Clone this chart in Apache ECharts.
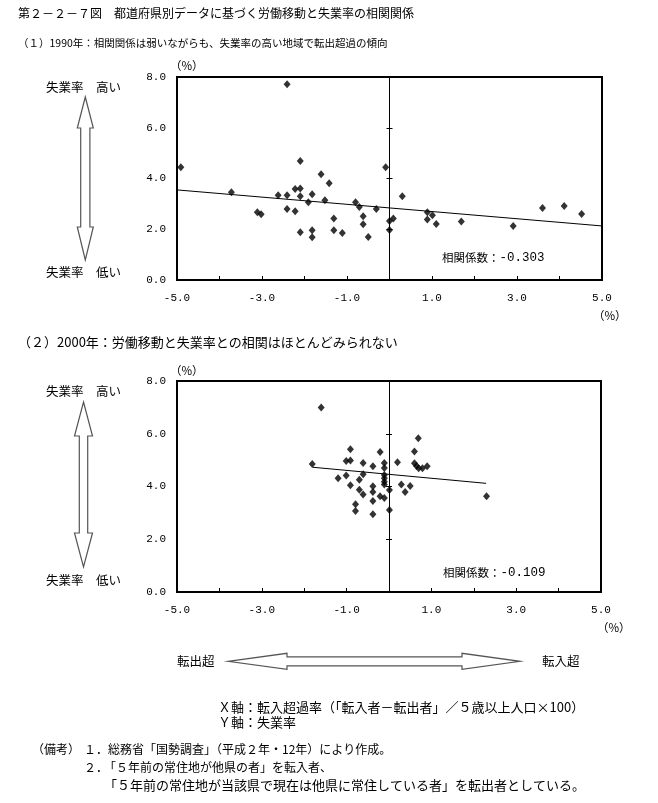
<!DOCTYPE html>
<html><head><meta charset="utf-8">
<script src="https://cdn.jsdelivr.net/npm/echarts@6/dist/echarts.min.js"></script>
<style>html,body{margin:0;padding:0;background:#fff}#c{width:658px;height:803px}</style>
</head><body><div id="c"></div>
<script>
// ---- data ----
const xTickLabels = ['-5.0', '-3.0', '-1.0', '1.0', '3.0', '5.0'];
const yTickLabels = ['0.0', '2.0', '4.0', '6.0', '8.0'];

const x1990 = [-4.91, -2.41, -3.72, -3.11, -3.02, -2.62, -2.41, -2.41, -2.22, -2.10, -2.22, -2.10, -2.10, -2.10, -1.91, -1.82, -1.82, -1.82, -1.61, -1.52, -1.42, -1.31, -1.31, -1.11, -0.80, -0.71, -0.62, -0.62, -0.50, -0.31, -0.09, 0.00, 0.00, 0.09, 0.30, 0.89, 0.89, 1.01, 1.10, 1.69, 2.91, 3.60, 4.11, 4.52];
const y1990 = [4.44, 7.71, 3.46, 2.67, 2.59, 3.34, 3.34, 2.80, 3.59, 3.61, 2.71, 4.69, 3.30, 1.88, 3.06, 3.38, 1.96, 1.68, 4.17, 3.14, 3.81, 2.42, 1.96, 1.85, 3.06, 2.88, 2.51, 2.20, 1.69, 2.80, 4.44, 2.33, 1.97, 2.42, 3.30, 2.67, 2.38, 2.55, 2.21, 2.31, 2.13, 2.84, 2.92, 2.60];
const trend1990X = [-5, 5];
const trend1990Y = [3.55, 2.13];
const corr1990 = '-0.303';

const x2000 = [-1.60, -1.81, -0.91, -0.21, 0.69, 0.60, -1.01, -0.91, -0.61, -0.38, -0.11, -0.11, 0.20, 0.60, 0.65, 0.70, 0.79, 0.90, -1.20, -1.01, -0.70, -0.61, -0.91, -0.70, -0.61, -0.38, -0.38, -0.21, -0.11, -0.11, -0.11, -0.11, -0.11, 0.01, 0.29, 0.50, 0.38, -0.79, -0.79, -0.38, -0.38, 0.01, 2.30];
const y2000 = [7.00, 4.85, 5.41, 5.31, 5.83, 5.33, 4.97, 4.99, 4.89, 4.77, 4.89, 4.70, 4.92, 4.88, 4.78, 4.69, 4.69, 4.77, 4.31, 4.42, 4.26, 4.46, 4.05, 3.88, 3.70, 4.01, 3.79, 3.63, 3.56, 4.44, 4.31, 4.18, 4.08, 3.87, 4.08, 4.02, 3.79, 3.33, 3.07, 3.45, 2.95, 3.11, 3.63];
const trend2000X = [-1.80, 2.29];
const trend2000Y = [4.73, 4.12];
const corr2000 = '-0.109';

// ---- chart ----
const JP = '"Noto Sans CJK JP", "Noto Sans", sans-serif';
const MONO = '"Liberation Mono", "DejaVu Sans Mono", monospace';
const zip = (xs, ys) => xs.map((x, i) => [x, ys[i]]);

function xAxisFor(gi) {
  return {
    gridIndex: gi, type: 'value', min: -5, max: 5, interval: 1,
    axisLine: { show: false, onZero: false },
    axisTick: { show: true, inside: true, length: 4, lineStyle: { color: '#000', width: 1 } },
    splitLine: { show: false },
    axisLabel: {
      margin: 13, color: '#000', fontFamily: MONO, fontSize: 11,
      formatter: v => { const r = Math.round(v); return Math.abs(r) % 2 === 1 ? xTickLabels[(r + 5) / 2] : ''; }
    }
  };
}
function yAxesFor(gi) {
  const base = { gridIndex: gi, type: 'value', min: 0, max: 8, interval: 2, splitLine: { show: false } };
  return [
    Object.assign({}, base, {
      position: 'left',
      axisLine: { show: false, onZero: false },
      axisTick: { show: false },
      axisLabel: { margin: 11, color: '#000', fontFamily: MONO, fontSize: 11, formatter: v => yTickLabels[Math.round(v) / 2] }
    }),
    Object.assign({}, base, {
      position: 'left',
      axisLine: { show: true, onZero: true, onZeroAxisIndex: gi, lineStyle: { color: '#000', width: 1 } },
      axisTick: { show: true, inside: true, length: 3, lineStyle: { color: '#000' } },
      axisLabel: { show: false }
    }),
    Object.assign({}, base, {
      position: 'left',
      axisLine: { show: true, onZero: true, onZeroAxisIndex: gi, lineStyle: { color: '#000', width: 1 } },
      axisTick: { show: true, inside: false, length: 3, lineStyle: { color: '#000' } },
      axisLabel: { show: false }
    })
  ];
}

function txt(x, y, text, size, extra) {
  return Object.assign({ type: 'text', x: x, y: y, silent: true,
    style: Object.assign({ text: text, font: size + 'px ' + JP, fill: '#000', verticalAlign: 'middle' }, extra || {}) });
}
function vArrow(cx, tipTop, baseTop, baseBot, tipBot, headHalf, shaftHalf) {
  return { type: 'polygon', silent: true,
    shape: { points: [[cx, tipTop], [cx + headHalf, baseTop], [cx + shaftHalf, baseTop], [cx + shaftHalf, baseBot], [cx + headHalf, baseBot], [cx, tipBot], [cx - headHalf, baseBot], [cx - shaftHalf, baseBot], [cx - shaftHalf, baseTop], [cx - headHalf, baseTop]] },
    style: { fill: '#fff', stroke: '#555', lineWidth: 1.2 } };
}
function hArrow(cy, tipL, baseL, baseR, tipR, headHalf, shaftHalf) {
  return { type: 'polygon', silent: true,
    shape: { points: [[tipL, cy], [baseL, cy - headHalf], [baseL, cy - shaftHalf], [baseR, cy - shaftHalf], [baseR, cy - headHalf], [tipR, cy], [baseR, cy + headHalf], [baseR, cy + shaftHalf], [baseL, cy + shaftHalf], [baseL, cy + headHalf]] },
    style: { fill: '#fff', stroke: '#555', lineWidth: 1.2 } };
}
function corrText(x, y, val) {
  return { type: 'text', x: x, y: y, silent: true,
    style: { text: '{a|相関係数：}{b|' + val + '}', verticalAlign: 'middle',
      rich: { a: { fontFamily: JP, fontSize: 11.5, fill: '#000' }, b: { fontFamily: MONO, fontSize: 12.5, fill: '#000' } } } };
}

const chart = echarts.init(document.getElementById('c'), null, { renderer: 'canvas' });
chart.setOption({
  animation: false,
  backgroundColor: '#fff',
  grid: [
    { left: 177, top: 77, width: 425, height: 203, show: true, borderColor: '#000', borderWidth: 2, backgroundColor: 'transparent' },
    { left: 177, top: 381, width: 424, height: 211, show: true, borderColor: '#000', borderWidth: 2, backgroundColor: 'transparent' }
  ],
  xAxis: [xAxisFor(0), xAxisFor(1)],
  yAxis: yAxesFor(0).concat(yAxesFor(1)),
  series: [
    { type: 'line', xAxisIndex: 0, yAxisIndex: 0, data: zip(trend1990X, trend1990Y), showSymbol: false, lineStyle: { color: '#000', width: 1 }, z: 2 },
    { type: 'scatter', xAxisIndex: 0, yAxisIndex: 0, data: zip(x1990, y1990), symbol: 'diamond', symbolSize: [7, 8], itemStyle: { color: '#000' }, z: 3 },
    { type: 'line', xAxisIndex: 1, yAxisIndex: 3, data: zip(trend2000X, trend2000Y), showSymbol: false, lineStyle: { color: '#000', width: 1 }, z: 2 },
    { type: 'scatter', xAxisIndex: 1, yAxisIndex: 3, data: zip(x2000, y2000), symbol: 'diamond', symbolSize: [7, 8], itemStyle: { color: '#000' }, z: 3 }
  ],
  graphic: [
    txt(18, 13, '第２－２－７図　都道府県別データに基づく労働移動と失業率の相関関係', 12),
    txt(18, 43, '（１）1990年：相関関係は弱いながらも、失業率の高い地域で転出超過の傾向', 10.5),
    txt(18, 342, '（２）2000年：労働移動と失業率との相関はほとんどみられない', 13),
    txt(170, 66, '（%）', 11.5),
    txt(170, 371, '（%）', 11.5),
    txt(593, 316, '（%）', 11.5),
    txt(597, 628, '（%）', 11.5),
    txt(46, 87, '失業率　高い', 12.5),
    txt(46, 272, '失業率　低い', 12.5),
    txt(46, 391, '失業率　高い', 12.5),
    txt(46, 580, '失業率　低い', 12.5),
    vArrow(85.3, 97, 128, 227, 260, 8, 4.6),
    vArrow(83.5, 402, 436, 533, 567, 9, 4.2),
    hArrow(661.3, 228, 287, 462, 520, 8, 4.5),
    txt(177, 661, '転出超', 12.5),
    txt(542, 661, '転入超', 12.5),
    corrText(442, 258, corr1990),
    corrText(443, 573, corr2000),
    txt(218, 707, 'Ｘ軸：転入超過率（「転入者－転出者」／５歳以上人口×100）', 13),
    txt(218, 722, 'Ｙ軸：失業率', 13),
    txt(32, 749, '（備考）', 12),
    txt(84, 749, '１．', 12),
    txt(108, 749, '総務省「国勢調査」（平成２年・12年）により作成。', 12),
    txt(84, 767, '２．', 12),
    txt(104, 767, '「５年前の常住地が他県の者」を転入者、', 12),
    txt(104, 785, '「５年前の常住地が当該県で現在は他県に常住している者」を転出者としている。', 13)
  ]
});
</script>
</body></html>
